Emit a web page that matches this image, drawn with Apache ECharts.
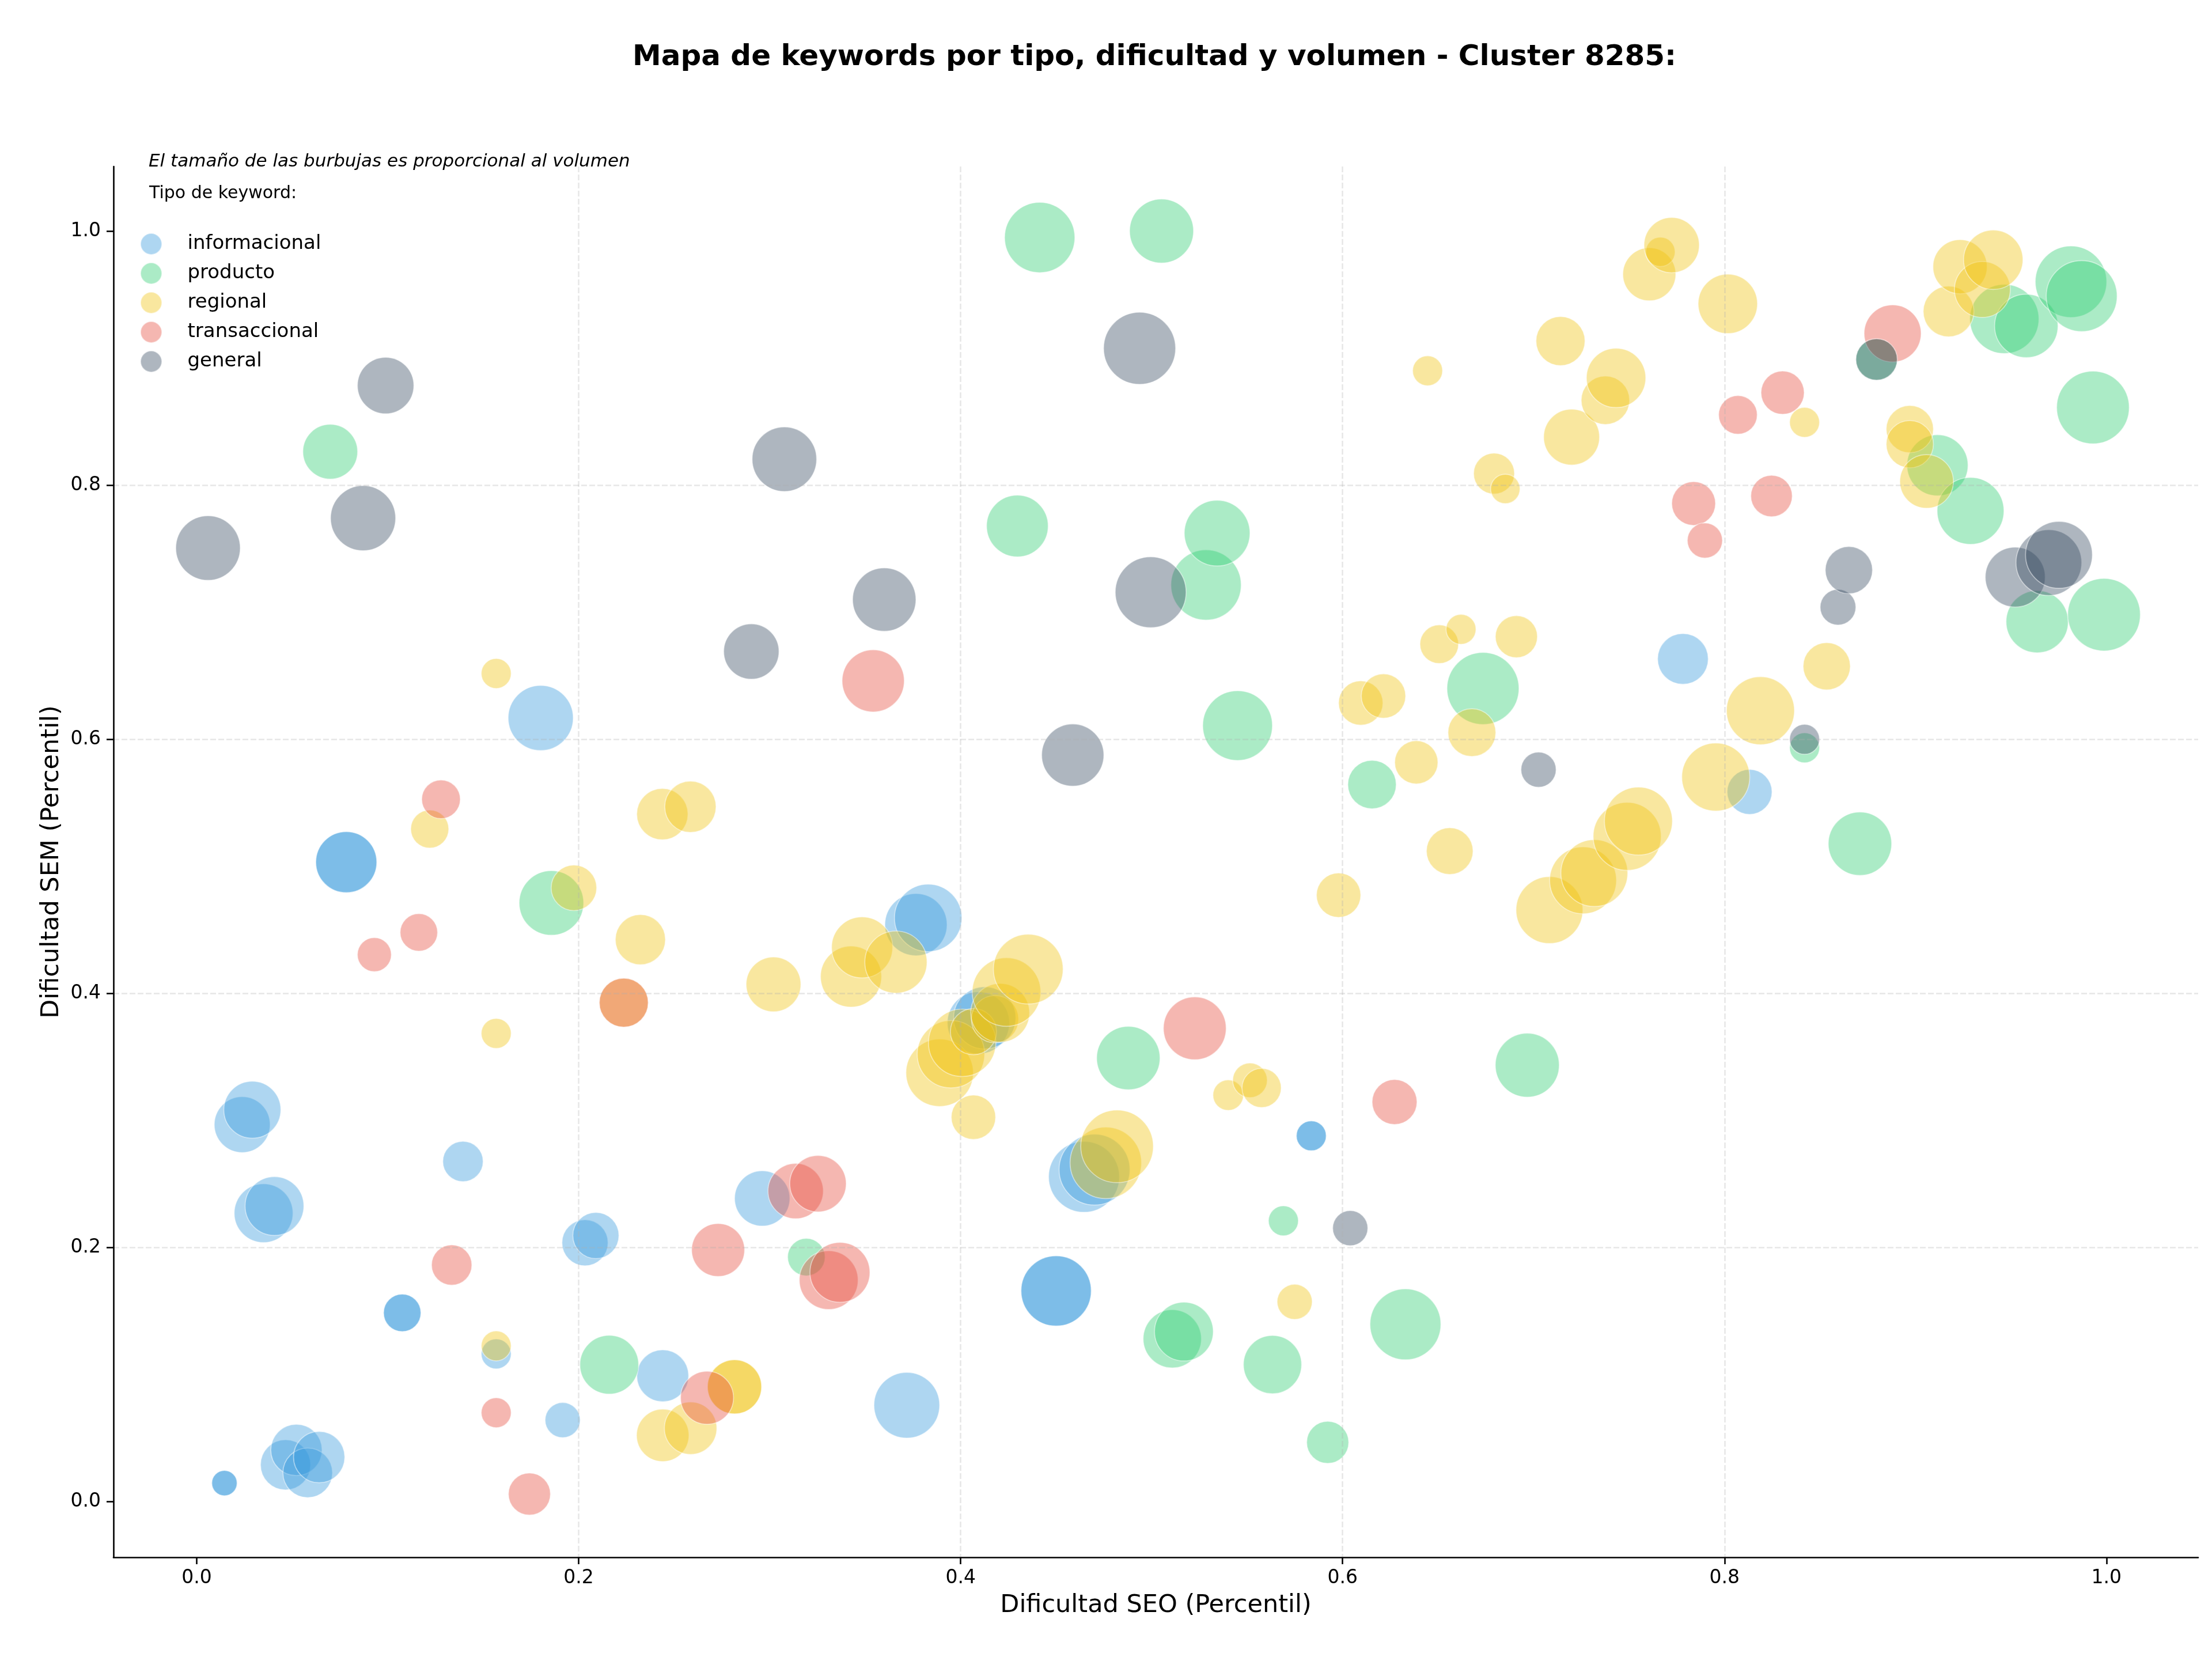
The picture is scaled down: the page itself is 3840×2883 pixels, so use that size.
<!DOCTYPE html>
<html>
<head>
<meta charset="utf-8">
<script src="https://cdn.jsdelivr.net/npm/echarts@6/dist/echarts.min.js"></script>
<style>
html,body{margin:0;padding:0;background:#fff;}
#chart{width:3840px;height:2883px;}
</style>
</head>
<body>
<div id="chart"></div>
<script>
// [dificultad SEO, dificultad SEM, volumen]
const informacional = [
  [0.0145,0.0144,194],[0.0145,0.0144,194],
  [0.0238,0.2966,941],[0.0291,0.3083,980],[0.0350,0.2269,1040],[0.0407,0.2325,1040],
  [0.0465,0.0288,757],[0.0522,0.0405,792],[0.0581,0.0225,740],[0.0641,0.0349,792],
  [0.0783,0.5032,1124],[0.0783,0.5032,1124],
  [0.1076,0.1484,423],[0.1076,0.1484,423],
  [0.1394,0.2676,490],[0.1568,0.1161,270],[0.1801,0.6167,1277],[0.1916,0.0640,372],
  [0.2033,0.2036,640],[0.2090,0.2093,640],[0.2440,0.0989,810],[0.2961,0.2385,922],
  [0.3718,0.0757,1300],[0.3766,0.4540,1166],[0.3830,0.4593,1369],
  [0.4093,0.3767,1166],[0.4126,0.3806,1166],
  [0.4500,0.1657,1488],[0.4500,0.1657,1488],
  [0.4646,0.2555,1513],[0.4701,0.2612,1513],
  [0.5836,0.2878,270],[0.5836,0.2878,270],
  [0.7782,0.6632,774],[0.8131,0.5585,608]
];
const producto = [
  [0.0699,0.8263,903],[0.1857,0.4711,1254],[0.2160,0.1076,1040],[0.3192,0.1923,423],
  [0.4297,0.7678,1145],[0.4414,0.9949,1488],[0.4878,0.3490,1210],[0.5052,1.0000,1232],
  [0.5108,0.1280,1020],[0.5169,0.1337,1040],[0.5285,0.7214,1488],[0.5343,0.7622,1300],
  [0.5450,0.6107,1464],[0.5633,0.1077,1020],[0.5690,0.2209,270],[0.5922,0.0465,533],
  [0.6154,0.5643,706],[0.6329,0.1394,1513],[0.6735,0.6399,1563],[0.6967,0.3434,1232],
  [0.8419,0.5932,270],[0.8709,0.5177,1210],[0.8796,0.8989,518],[0.9115,0.8156,1124],
  [0.9288,0.7797,1346],[0.9465,0.9308,1440],[0.9580,0.9253,1210],[0.9637,0.6925,1166],
  [0.9814,0.9601,1538],[0.9870,0.9488,1513],[0.9929,0.8611,1588],[0.9987,0.6980,1588]
];
const regional = [
  [0.1220,0.5293,436],[0.1568,0.6517,270],[0.1568,0.3684,270],[0.1568,0.1224,270],
  [0.1975,0.4830,624],[0.2236,0.3926,723],[0.2323,0.4422,757],[0.2438,0.5410,792],
  [0.2585,0.5468,792],[0.2440,0.0520,828],[0.2586,0.0576,828],
  [0.2816,0.0902,884],[0.2816,0.0902,884],
  [0.3020,0.4070,903],[0.3426,0.4131,1124],[0.3484,0.4361,1124],[0.3661,0.4245,1166],
  [0.3890,0.3374,1369],[0.3949,0.3520,1369],[0.4008,0.3610,1369],[0.4067,0.3698,640],
  [0.4067,0.3024,593],[0.4180,0.3796,672],[0.4207,0.3846,1040],[0.4240,0.4010,1416],
  [0.4354,0.4190,1464],[0.4760,0.2665,1538],[0.4819,0.2795,1588],
  [0.5401,0.3198,281],[0.5515,0.3315,360],[0.5576,0.3255,462],[0.5749,0.1571,372],
  [0.5979,0.4772,593],[0.6095,0.6285,593],[0.6214,0.6340,593],[0.6386,0.5818,563],
  [0.6445,0.8900,270],[0.6506,0.6748,449],[0.6561,0.5119,656],[0.6620,0.6865,270],
  [0.6677,0.6052,689],[0.6793,0.8091,504],[0.6852,0.7970,260],[0.6910,0.6807,533],
  [0.7083,0.4655,1346],[0.7141,0.9134,723],[0.7199,0.8378,941],[0.7259,0.4889,1346],
  [0.7318,0.4946,1346],[0.7376,0.8668,706],[0.7432,0.8844,1061],[0.7490,0.5235,1392],
  [0.7549,0.5355,1392],[0.7606,0.9660,846],[0.7664,0.9836,260],[0.7723,0.9889,922],
  [0.7954,0.5702,1392],[0.8017,0.9427,1061],[0.8188,0.6224,1392],[0.8419,0.8494,270],
  [0.8535,0.6574,672],[0.8970,0.8441,672],[0.8970,0.8322,672],[0.9058,0.8029,865],
  [0.9173,0.9367,774],[0.9233,0.9719,884],[0.9350,0.9540,941],[0.9407,0.9774,1061]
];
const transaccional = [
  [0.0930,0.4304,348],[0.1163,0.4479,423],[0.1279,0.5527,449],[0.1335,0.1861,490],
  [0.1568,0.0698,270],[0.1742,0.0058,533],[0.2236,0.3926,723],[0.2672,0.0816,846],
  [0.2730,0.1979,846],[0.3136,0.2443,922],[0.3253,0.2501,960],[0.3309,0.1742,1040],
  [0.3368,0.1803,1082],[0.3542,0.6459,1166],[0.5226,0.3724,1188],[0.6272,0.3144,608],
  [0.7838,0.7855,578],[0.7897,0.7564,372],[0.8070,0.8553,449],[0.8246,0.7914,518],
  [0.8304,0.8728,563],[0.8880,0.9194,980]
];
const general = [
  [0.0059,0.7505,1254],[0.0871,0.7740,1277],[0.0989,0.8784,960],[0.2904,0.6690,922],
  [0.3077,0.8204,1254],[0.3600,0.7099,1210],[0.4587,0.5875,1166],[0.4937,0.9077,1563],
  [0.4995,0.7157,1513],[0.6040,0.2151,372],[0.7026,0.5760,372],[0.8419,0.5999,270],
  [0.8594,0.7039,384],[0.8651,0.7331,672],[0.8796,0.8989,518],[0.9522,0.7276,1082],
  [0.9698,0.7390,1300],[0.9751,0.7451,1346]
];
const tipos = ['informacional','producto','regional','transaccional','general'];
const xTicks = [0, 0.2, 0.4, 0.6, 0.8, 1.0];
const yTicks = [0, 0.2, 0.4, 0.6, 0.8, 1.0];

const seriesData = {informacional, producto, regional, transaccional, general};
const colors = {
  informacional: 'rgba(52,152,219,0.5)',
  producto: 'rgba(46,204,113,0.5)',
  regional: 'rgba(241,196,15,0.5)',
  transaccional: 'rgba(231,76,60,0.5)',
  general: 'rgba(52,73,94,0.5)'
};
const FONT = '"DejaVu Sans", "Liberation Sans", sans-serif';

const chart = echarts.init(document.getElementById('chart'), null, {renderer: 'canvas'});
const axisCommon = {
  type: 'value',
  z: 5,
  axisLine: {show: true, onZero: false, lineStyle: {color: '#000', width: 2.6}},
  axisTick: {show: true, inside: false, length: 12, lineStyle: {color: '#000', width: 2.6}},
  splitLine: {show: true, showMinLine: false, showMaxLine: false,
    lineStyle: {color: 'rgba(176,176,176,0.3)', width: 2.6, type: [10, 4]}},
  nameLocation: 'middle',
  nameTextStyle: {fontSize: 43, color: '#000', fontFamily: FONT}
};
chart.setOption({
  animation: false,
  backgroundColor: '#ffffff',
  title: {
    text: 'Mapa de keywords por tipo, dificultad y volumen - Cluster 8285:',
    left: 1999, top: 70, textAlign: 'center',
    textStyle: {fontSize: 50, fontWeight: 'bold', color: '#000', fontFamily: FONT}
  },
  grid: {left: 197, right: 24, top: 289, bottom: 180, containLabel: false},
  xAxis: Object.assign({}, axisCommon, {
    min: -0.0436, max: 1.048,
    name: 'Dificultad SEO (Percentil)', nameGap: 62,
    axisTick: Object.assign({}, axisCommon.axisTick, {customValues: xTicks}),
    axisLabel: {customValues: xTicks, formatter: v => v.toFixed(1), fontSize: 33, color: '#000', margin: 20, fontFamily: FONT}
  }),
  yAxis: Object.assign({}, axisCommon, {
    min: -0.044, max: 1.0508,
    name: 'Dificultad SEM (Percentil)', nameGap: 86, nameRotate: 90,
    axisTick: Object.assign({}, axisCommon.axisTick, {customValues: yTicks}),
    axisLabel: {customValues: yTicks, formatter: v => v.toFixed(1), fontSize: 33, color: '#000', margin: 22, fontFamily: FONT}
  }),
  legend: {
    orient: 'vertical', left: 238, top: 399,
    itemWidth: 116, itemHeight: 37, itemGap: 12, icon: 'circle',
    textStyle: {fontSize: 34, color: '#000', fontFamily: FONT, lineHeight: 37},
    data: tipos
  },
  graphic: [
    {type: 'text', x: 258, y: 281, z: 10,
     style: {text: 'El tamaño de las burbujas es proporcional al volumen', font: 'italic 31px "DejaVu Sans"', fill: '#000', verticalAlign: 'middle', align: 'left'}},
    {type: 'text', x: 259, y: 336, z: 10,
     style: {text: 'Tipo de keyword:', font: '30px "DejaVu Sans"', fill: '#000', verticalAlign: 'middle', align: 'left'}}
  ],
  series: tipos.map(t => ({
    type: 'scatter',
    name: t,
    data: seriesData[t],
    symbol: 'circle',
    symbolSize: d => Math.sqrt(d[2] * 10),
    itemStyle: {color: colors[t], borderColor: 'rgba(255,255,255,0.6)', borderWidth: 1.7},
    emphasis: {disabled: true}
  }))
});
</script>
</body>
</html>
